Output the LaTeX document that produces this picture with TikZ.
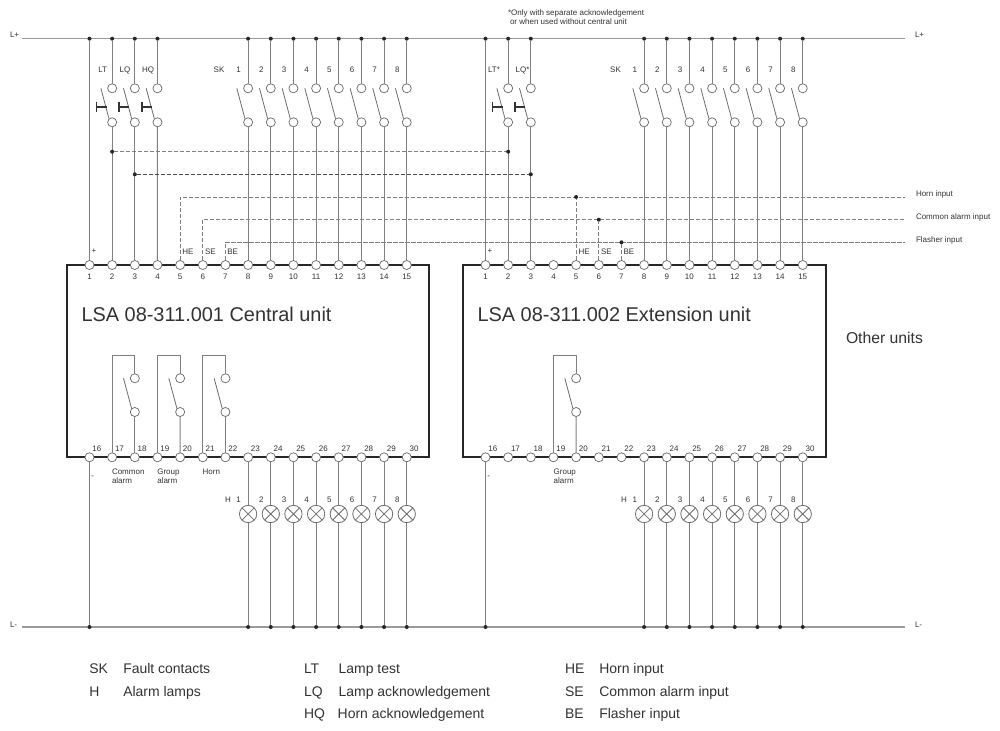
\documentclass[tikz,border=0pt]{standalone}
\usepackage{fontspec}
\setmainfont{Liberation Sans}
\definecolor{wire}{HTML}{808080}
\definecolor{busc}{HTML}{9A9A9A}
\definecolor{ink}{HTML}{333333}
\definecolor{dashc}{HTML}{808080}
\newcommand{\yBusTop}{38.7}
\newcommand{\yBusBot}{627}
\tikzset{
  every node/.style={inner sep=0pt,outer sep=0pt,text=ink},
  term/.style={circle,draw=wire!85!black,fill=white,line width=.55pt,minimum size=6.8pt},
  jdot/.style={circle,fill=black!85,minimum size=3pt},
  lamp/.style={circle,draw=wire!85!black,fill=white,line width=.6pt,minimum size=13pt},
  wireline/.style={draw=wire,line width=.75pt},
  busline/.style={draw=busc,line width=.85pt},
  blade/.style={draw=wire!85!black,line width=.6pt},
  btn/.style={draw=black!80,line width=1.35pt},
  sigline/.style={draw=dashc,line width=.65pt,dash pattern=on 3.2pt off 1.3pt},
  unitbox/.style={rectangle,draw=black!85,line width=1.6pt,fill=white},
  tiny/.style={font=\fontsize{6}{7}\selectfont},
  tinybase/.style={tiny,anchor=base west},
  tinymid/.style={tiny,anchor=base},
  legend/.style={font=\fontsize{10.47}{12}\selectfont,anchor=base west},
  titlefont/.style={font=\fontsize{14.95}{17}\selectfont,anchor=base west},
}
% switch on terminal n of unit u: taps the top bus, contact circles, blade, wire down
\newcommand{\topswitch}[3]{% unit, n, x
  \node[jdot] (#1Tap#2) at (#3,\yBusTop) {};
  \node[term] (#1Up#2) at (#3,88.3) {};
  \node[term] (#1Lo#2) at (#3,122.3) {};
  \draw[wireline] (#1Tap#2) -- (#1Up#2);
  \draw[wireline] (#1Lo#2) -- (#1#2);
  \draw[blade] (#3-11.3,88.3) -- (#3-3.2,118.6);
}
\newcommand{\pushbtn}[1]{% x of switch
  \draw[btn] (#1-15.7,101.6) -- (#1-15.7,112.4);
  \draw[btn] (#1-15.7,107) -- (#1-5.6,107);
}
\newcommand{\relay}[4]{% unit, n1, n2, x of n2
  \node[term] (#1RU#3) at (#4,378.3) {};
  \node[term] (#1RL#3) at (#4,412) {};
  \coordinate (#1RT#3) at (#4,355.3);
  \draw[wireline,line width=.65pt] (#1#2) |- (#1RT#3) -- (#1RU#3);
  \draw[wireline,line width=.65pt] (#1RL#3) -- (#1#3);
  \draw[blade] (#4-11.3,378.3) -- (#4-3.2,408.6);
}
\newcommand{\unitterminals}[2]{% unit, x0
  \foreach \n in {1,...,15}{
    \pgfmathsetmacro{\xx}{#2+(\n-1)*22.66}
    \node[term] (#1\n) at (\xx,265) {};
    \node[tiny] at (\xx,276.3) {\n};
  }
  \foreach \n in {16,...,30}{
    \pgfmathsetmacro{\xx}{#2+(\n-16)*22.66}
    \node[term] (#1\n) at (\xx,457.3) {};
    \node[tiny] at (\xx+7.3,449) {\n};
  }
}
\newcommand{\lamps}[2]{% unit, x0
  \foreach \i in {1,...,8}{
    \pgfmathsetmacro{\xx}{#2+(\i+6)*22.66}
    \pgfmathtruncatemacro{\tnum}{\i+22}
    \node[lamp] (#1L\i) at (\xx,514) {};
    \draw[blade] (#1L\i.north west) -- (#1L\i.south east);
    \draw[blade] (#1L\i.north east) -- (#1L\i.south west);
    \node[jdot] (#1B\i) at (\xx,\yBusBot) {};
    \draw[wireline] (#1\tnum) -- (#1L\i);
    \draw[wireline] (#1L\i) -- (#1B\i);
    \node[tiny] at (\xx-9.4,500) {\i};
  }
}
\newcommand{\skrow}[2]{% unit, x0
  \foreach \i in {1,...,8}{
    \pgfmathsetmacro{\xx}{#2+(\i+6)*22.66}
    \pgfmathtruncatemacro{\tnum}{\i+7}
    \topswitch{#1}{\tnum}{\xx}
    \node[tiny] at (\xx-9.4,70) {\i};
  }
}
\begin{document}
\begin{tikzpicture}[x=0.75pt,y=-0.75pt]
\useasboundingbox (0,0) rectangle (1000,731);
\fill[white] (0,0) rectangle (1000,731);
% buses
\coordinate (TopL) at (22,\yBusTop);
\coordinate (TopR) at (905,\yBusTop);
\coordinate (BotL) at (22,\yBusBot);
\coordinate (BotR) at (905,\yBusBot);
\draw[busline] (TopL) -- (TopR);
\draw[busline] (BotL) -- (BotR);
\node[tinybase] (LpL) at (10,38) {L+};
\node[tinybase] (LpR) at (915,38) {L+};
\node[tinybase] (LmL) at (10,627.5) {L-};
\node[tinybase] (LmR) at (915,627.5) {L-};
% unit boxes
\node[unitbox,minimum width=271.9pt,minimum height=144pt] (BoxA) at (248,361.15) {};
\node[unitbox,minimum width=272.2pt,minimum height=144pt] (BoxB) at (644.2,361.15) {};
\node[titlefont] (TitleA) at (81.5,321.7) {LSA 08-311.001 Central unit};
\node[titlefont] (TitleB) at (477.5,321.7) {LSA 08-311.002 Extension unit};
\node[font=\fontsize{11.8}{14}\selectfont,anchor=west] (Other) at (846,338) {Other units};
% terminals
\unitterminals{A}{89.5}
\unitterminals{B}{485.5}
% dashed signal lines
\coordinate (HornEnd) at (905,197);
\coordinate (CommEnd) at (905,219.7);
\coordinate (FlashEnd) at (905,242.3);
\draw[sigline] (A5) |- (HornEnd);
\draw[sigline] (A6) |- (CommEnd);
\draw[sigline] (A7) |- (FlashEnd);
\node[jdot] (HD) at (B5|-HornEnd) {};
\node[jdot] (SD) at (B6|-CommEnd) {};
\node[jdot] (FD) at (B7|-FlashEnd) {};
\draw[sigline] (B5) -- (HD);
\draw[sigline] (B6) -- (SD);
\draw[sigline] (B7) -- (FD);
% top switches, left
\node[jdot] (ATap1) at (A1|-TopL) {};
\draw[wireline,line width=.65pt] (ATap1) -- (A1);
\topswitch{A}{2}{112.16}
\topswitch{A}{3}{134.82}
\topswitch{A}{4}{157.48}
\pushbtn{112.16}\pushbtn{134.82}\pushbtn{157.48}
\skrow{A}{89.5}
% top switches, right
\node[jdot] (BTap1) at (B1|-TopL) {};
\draw[wireline,line width=.65pt] (BTap1) -- (B1);
\topswitch{B}{2}{508.16}
\topswitch{B}{3}{530.82}
\pushbtn{508.16}\pushbtn{530.82}
\skrow{B}{485.5}
% acknowledge cross-links
\node[jdot] (AD2) at (112.16,151.7) {};
\node[jdot] (BD2) at (508.16,151.7) {};
\node[jdot] (AD3) at (134.82,174.3) {};
\node[jdot] (BD3) at (530.82,174.3) {};
\draw[sigline] (AD2) -- (BD2);
\draw[sigline,draw=black!70] (AD3) -- (BD3);
% relays
\relay{A}{17}{18}{134.82}
\relay{A}{19}{20}{180.14}
\relay{A}{21}{22}{225.46}
\relay{B}{19}{20}{576.14}
% lower wires and lamps
\node[jdot] (AB16) at (A16|-BotL) {};
\node[jdot] (BB16) at (B16|-BotL) {};
\draw[wireline,line width=.65pt] (A16) -- (AB16);
\draw[wireline,line width=.65pt] (B16) -- (BB16);
\lamps{A}{89.5}
\lamps{B}{485.5}
% small labels, left
\node[tinymid] at (102.7,73) {LT};
\node[tinymid] at (125,73) {LQ};
\node[tinymid] at (148,72.3) {HQ};
\node[tinymid] at (219,73) {SK};
\node[tiny,anchor=west] at (91.5,251) {+};
\node[tinybase] at (182.3,254) {HE};
\node[tinybase] at (205,254) {SE};
\node[tinybase] at (227.3,254) {BE};
\node[tiny] at (92.7,477) {-};
\node[tiny,anchor=west,align=left] at (112,476.5) {Common\\alarm};
\node[tiny,anchor=west,align=left] at (157.3,476.5) {Group\\alarm};
\node[tiny,anchor=west] at (202.7,472) {Horn};
\node[tiny] at (228,500) {H};
% small labels, right
\node[tinymid] at (494,73) {LT*};
\node[tinymid] at (522.5,73) {LQ*};
\node[tinymid] at (615.5,73) {SK};
\node[tiny,anchor=west] at (487.5,251) {+};
\node[tinybase] at (578.5,254) {HE};
\node[tinybase] at (601,254) {SE};
\node[tinybase] at (623.5,254) {BE};
\node[tiny] at (488.7,477) {-};
\node[tiny,anchor=west,align=left] at (553.7,476.5) {Group\\alarm};
\node[tiny] at (624,500) {H};
\node[tinybase] at (916,197) {Horn input};
\node[tinybase] at (916,219.7) {Common alarm input};
\node[tinybase] at (916,243) {Flasher input};
\node[tinybase] at (508,15.5) {*Only with separate acknowledgement};
\node[tinybase] at (510,24.5) {or when used without central unit};
% legend
\node[legend] at (89.3,673.3) {SK};
\node[legend] at (123.3,673.3) {Fault contacts};
\node[legend] at (89.3,696) {H};
\node[legend] at (123.3,696) {Alarm lamps};
\node[legend] at (304,673.3) {LT};
\node[legend] at (338.7,673.3) {Lamp test};
\node[legend] at (304,696) {LQ};
\node[legend] at (338.7,696) {Lamp acknowledgement};
\node[legend] at (304,718.3) {HQ};
\node[legend] at (337.7,718.3) {Horn acknowledgement};
\node[legend] at (565,673.3) {HE};
\node[legend] at (599.3,673.3) {Horn input};
\node[legend] at (565,696) {SE};
\node[legend] at (599.3,696) {Common alarm input};
\node[legend] at (565,718.3) {BE};
\node[legend] at (599.3,718.3) {Flasher input};
\end{tikzpicture}
\end{document}
